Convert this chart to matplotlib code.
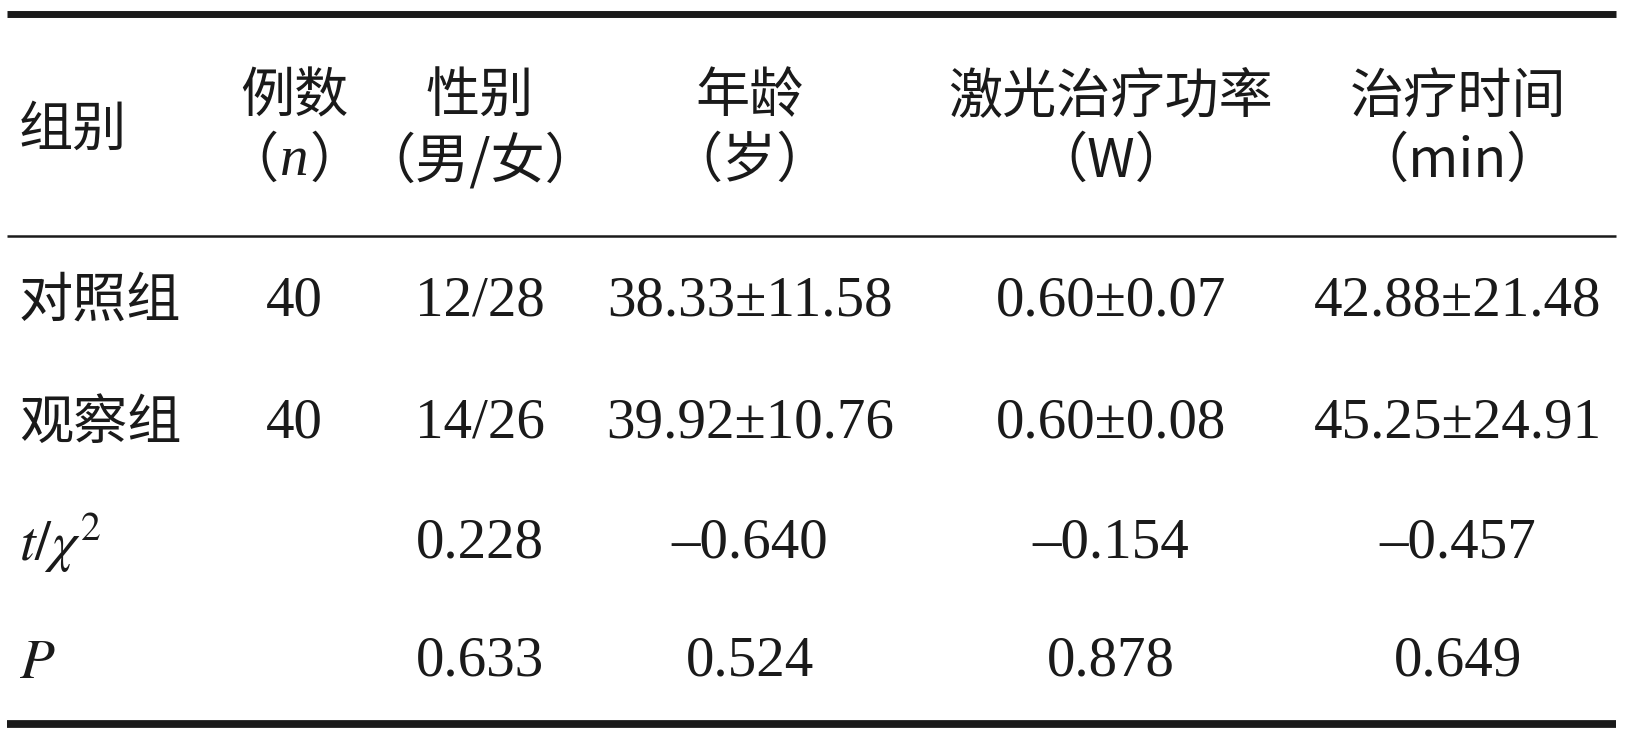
import matplotlib
matplotlib.use("Agg")
import matplotlib.pyplot as plt

# table content
header_top = ["例数", "性别", "年龄", "激光治疗功率", "治疗时间"]
header_bottom = ["（n）", "（男/女）", "（岁）", "（W）", "（min）"]
row_labels = ["对照组", "观察组", r"$t/\chi^2$", r"$P$"]
n_cases = ["40", "40", "", ""]
sex = ["12/28", "14/26", "0.228", "0.633"]
age = ["38.33±11.58", "39.92±10.76", "–0.640", "0.524"]
power = ["0.60±0.07", "0.60±0.08", "–0.154", "0.878"]
duration = ["42.88±21.48", "45.25±24.91", "–0.457", "0.649"]

W, H = 1628, 741
col_x = [294, 480, 750, 1111, 1458]
row_y = [301, 423, 543, 662]
ink = "#1a1a1a"
fs = 39
cjk = ["Noto Sans CJK SC", "DejaVu Sans"]
serif = ["Liberation Serif", "Noto Sans CJK SC"]

plt.rcParams["mathtext.fontset"] = "stix"

fig = plt.figure(figsize=(W / 100, H / 100), dpi=100)
ax = fig.add_axes([0, 0, 1, 1])
ax.set_xlim(0, W)
ax.set_ylim(H, 0)
ax.axis("off")

# rules
ax.hlines(13.5, 7, 1616, color=ink, lw=5.0)
ax.hlines(235.5, 7, 1616, color=ink, lw=1.8)
ax.hlines(724, 7, 1616, color=ink, lw=5.6)

# header
ax.text(19, 130, "组别", family=cjk, fontsize=fs, color=ink, ha="left", va="center")
for x, top, bot in zip(col_x, header_top, header_bottom):
    ax.text(x, 97, top, family=cjk, fontsize=fs, color=ink, ha="center", va="center")
    if bot == "（n）":
        # italic n between full-width brackets
        ax.text(x - 16, 161, "（", family=cjk, fontsize=fs, color=ink, ha="right", va="center")
        ax.text(x, 161, "n", family="Liberation Serif", style="italic", fontsize=fs + 2,
                color=ink, ha="center", va="center")
        ax.text(x + 16, 161, "）", family=cjk, fontsize=fs, color=ink, ha="left", va="center")
    else:
        ax.text(x, 161, bot, family=cjk, fontsize=fs, color=ink, ha="center", va="center")

# body
columns = [n_cases, sex, age, power, duration]
for i, (y, lab) in enumerate(zip(row_y, row_labels)):
    if lab.startswith("$"):
        ax.text(19, y, lab, fontsize=fs + 2, color=ink, ha="left", va="center")
    else:
        ax.text(19, y, lab, family=cjk, fontsize=fs, color=ink, ha="left", va="center")
    for x, col in zip(col_x, columns):
        if col[i]:
            ax.text(x, y, col[i], family=serif, fontsize=fs + 2, color=ink,
                    ha="center", va="center")

fig.savefig("out.png", dpi=100, facecolor="white")
